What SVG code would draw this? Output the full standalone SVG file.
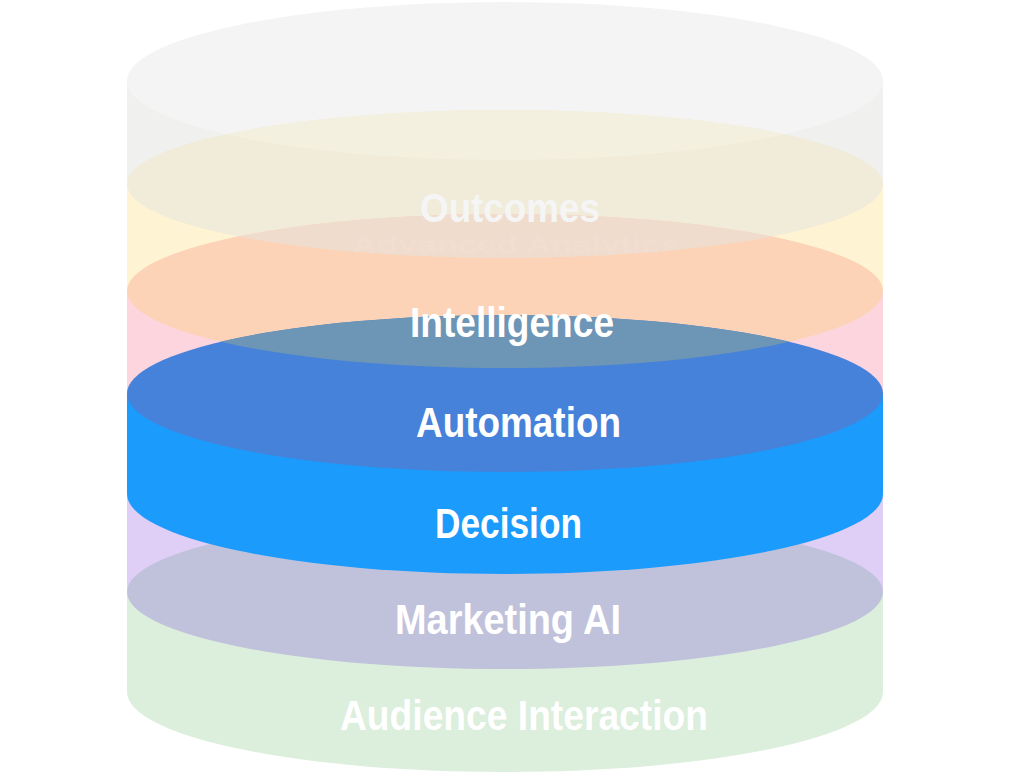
<svg xmlns="http://www.w3.org/2000/svg" width="1010" height="784" viewBox="0 0 1010 784">
  <style>
    .lbl { font-family: "Liberation Sans", Arial, sans-serif; font-weight: bold; font-size: 42px; fill: #FFFFFF; }
    .out { font-size: 40px; fill: #F5F5F5; }
    .ghost { font-size: 24px; fill: #F1DED1; }
  </style>
  <defs>
    <clipPath id="clipE1"><ellipse cx="505" cy="81" rx="378" ry="79"/></clipPath>
    <clipPath id="clipE2"><ellipse cx="505" cy="184" rx="378" ry="74"/></clipPath>
    <clipPath id="clipE3"><ellipse cx="505" cy="291" rx="378" ry="77"/></clipPath>
  </defs>

  <g id="layer-gray">
    <rect x="127" y="81" width="756" height="103" fill="#F0F0EF"/>
    <ellipse cx="505" cy="81" rx="378" ry="79" fill="#F4F4F4"/>
  </g>

  <g id="layer-yellow">
    <rect x="127" y="184" width="756" height="107" fill="#FEF3D3"/>
    <ellipse cx="505" cy="184" rx="378" ry="74" fill="#F1EBDA"/>
    <ellipse cx="505" cy="184" rx="378" ry="74" fill="#F3F0DF" clip-path="url(#clipE1)"/>
  </g>

  <g id="layer-orange">
    <rect x="127" y="291" width="756" height="103" fill="#FDD5DF"/>
    <ellipse cx="505" cy="291" rx="378" ry="77" fill="#FCD3B6"/>
    <g clip-path="url(#clipE2)">
      <ellipse cx="505" cy="291" rx="378" ry="77" fill="#F0DCCD"/>
      <text class="lbl ghost" x="352" y="253" textLength="328" lengthAdjust="spacingAndGlyphs" clip-path="url(#clipE3)">Advanced Analytics</text>
    </g>
  </g>

  <g id="layer-green">
    <path d="M127,592 V692 A378,80 0 0 0 883,692 V592 Z" fill="#DCEEDC"/>
  </g>

  <g id="layer-purple">
    <rect x="127" y="494" width="756" height="98" fill="#DFCEF6"/>
    <ellipse cx="505" cy="592" rx="378" ry="77" fill="#C0C2DC"/>
  </g>

  <g id="layer-blue">
    <path d="M127,393.5 V494 A378,80 0 0 0 883,494 V393.5 Z" fill="#1B9BFB"/>
    <ellipse cx="505" cy="393.5" rx="378" ry="78.5" fill="#4682DA"/>
    <ellipse cx="505" cy="393.5" rx="378" ry="78.5" fill="#6D95B5" clip-path="url(#clipE3)"/>
  </g>

  <g id="labels">
    <text class="lbl out" x="420" y="222" textLength="180" lengthAdjust="spacingAndGlyphs">Outcomes</text>
    <text class="lbl" x="410" y="337" textLength="204" lengthAdjust="spacingAndGlyphs">Intelligence</text>
    <text class="lbl" x="416" y="437" textLength="205" lengthAdjust="spacingAndGlyphs">Automation</text>
    <text class="lbl" x="435" y="538" textLength="147" lengthAdjust="spacingAndGlyphs">Decision</text>
    <text class="lbl" x="395" y="634" textLength="226" lengthAdjust="spacingAndGlyphs">Marketing AI</text>
    <text class="lbl" x="340" y="730" textLength="368" lengthAdjust="spacingAndGlyphs">Audience Interaction</text>
  </g>
</svg>
